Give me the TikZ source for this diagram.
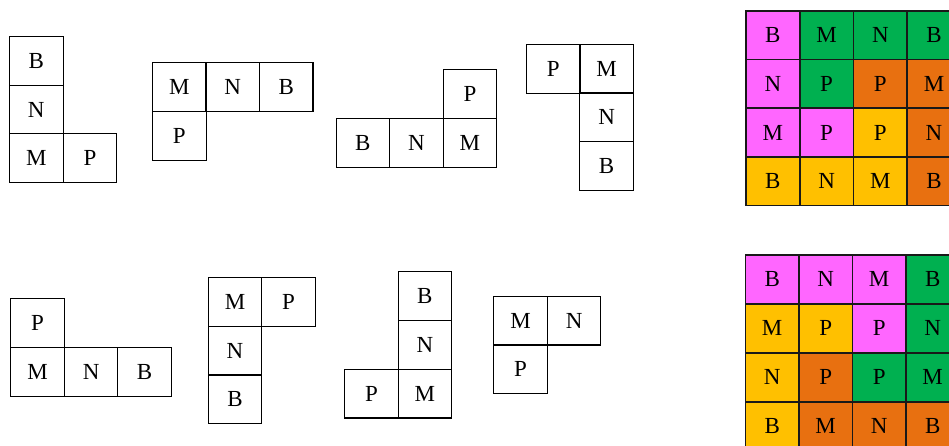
\documentclass[tikz,border=0pt]{standalone}
\usepackage{fontspec}
\setmainfont{Liberation Serif}
\definecolor{pk}{RGB}{255,102,255}
\definecolor{gr}{RGB}{0,176,80}
\definecolor{og}{RGB}{232,112,16}
\definecolor{yl}{RGB}{255,192,0}
\tikzset{
  cellbox/.style={draw=black, line width=1.1pt, minimum width=53.5pt, minimum height=48.7pt,
    inner sep=0pt, anchor=north west, font=\fontsize{23}{23}\selectfont},
  gridbox/.style={cellbox, line width=1.5pt, draw=black!90}
}
\begin{document}
\begin{tikzpicture}[x=1pt,y=-1pt]
\useasboundingbox (0,0) rectangle (949,445);
\clip (0,0) rectangle (949,445);
% shape 1
\node[cellbox] (a1) at (9,36) {B};
\node[cellbox] (a2) at (9,84.6) {N};
\node[cellbox] (a3) at (9,133.3) {M};
\node[cellbox] (a4) at (62.6,133.3) {P};
% shape 2
\node[cellbox] (b1) at (152,62.3) {M};
\node[cellbox] (b2) at (205.4,62.3) {N};
\node[cellbox] (b3) at (258.9,62.3) {B};
\node[cellbox] (b4) at (152,111) {P};
% shape 3
\node[cellbox] (c1) at (442.6,69.3) {P};
\node[cellbox] (c2) at (335.6,118.2) {B};
\node[cellbox] (c3) at (389.1,118.2) {N};
\node[cellbox] (c4) at (442.6,118.2) {M};
% shape 4
\node[cellbox] (d1) at (526,44) {P};
\node[cellbox] (d2) at (579.3,44) {M};
\node[cellbox] (d3) at (579.3,92.4) {N};
\node[cellbox] (d4) at (579.3,141) {B};
% shape 5
\node[cellbox] (e1) at (10.3,298.3) {P};
\node[cellbox] (e2) at (10.3,347) {M};
\node[cellbox] (e3) at (63.8,347) {N};
\node[cellbox] (e4) at (117.3,347) {B};
% shape 6
\node[cellbox] (f1) at (207.7,277) {M};
\node[cellbox] (f2) at (261.1,277) {P};
\node[cellbox] (f3) at (207.7,325.7) {N};
\node[cellbox] (f4) at (207.7,374.5) {B};
% shape 7
\node[cellbox] (h1) at (397.6,271.2) {B};
\node[cellbox] (h2) at (397.6,320) {N};
\node[cellbox] (h3) at (344.1,368.7) {P};
\node[cellbox] (h4) at (397.6,368.7) {M};
% shape 8
\node[cellbox] (k1) at (493.3,295.7) {M};
\node[cellbox] (k2) at (546.8,295.7) {N};
\node[cellbox] (k3) at (493.3,344.3) {P};
% top grid
\foreach \t/\c [count=\i from 0] in {B/pk,M/gr,N/gr,B/gr,N/pk,P/gr,P/og,M/og,M/pk,P/pk,P/yl,N/og,B/yl,N/yl,M/yl,B/og}{
  \pgfmathtruncatemacro{\r}{int(\i/4)}
  \pgfmathtruncatemacro{\cc}{mod(\i,4)}
  \node[gridbox, fill=\c, minimum width=53.7pt] (g1-\r-\cc) at (745.3+53.7*\cc, 10+48.7*\r) {\t};
}
% bottom grid
\foreach \t/\c [count=\i from 0] in {B/pk,N/pk,M/pk,B/gr,M/yl,P/yl,P/pk,N/gr,N/yl,P/og,P/gr,M/gr,B/yl,M/og,N/og,B/og}{
  \pgfmathtruncatemacro{\r}{int(\i/4)}
  \pgfmathtruncatemacro{\cc}{mod(\i,4)}
  \node[gridbox, fill=\c] (g2-\r-\cc) at (744.7+53.5*\cc, 254.3+48.9*\r) {\t};
}
\end{tikzpicture}
\end{document}
